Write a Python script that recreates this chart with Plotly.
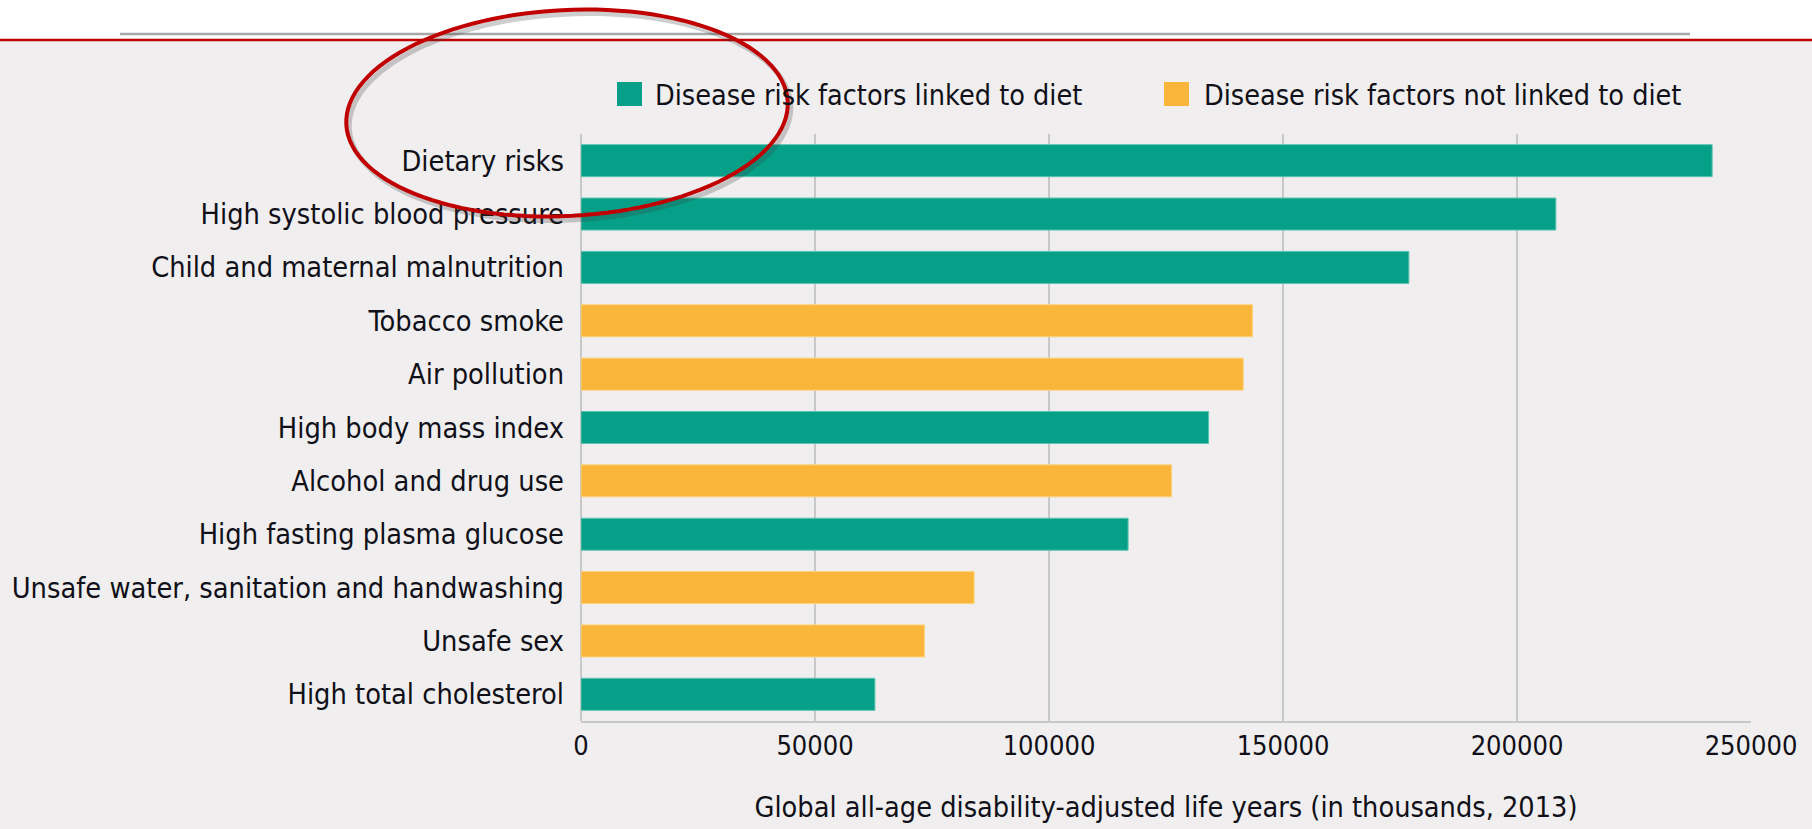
import numpy as np
import plotly.graph_objects as go

# ---- data ----
categories = [
    "Dietary risks",
    "High systolic blood pressure",
    "Child and maternal malnutrition",
    "Tobacco smoke",
    "Air pollution",
    "High body mass index",
    "Alcohol and drug use",
    "High fasting plasma glucose",
    "Unsafe water, sanitation and handwashing",
    "Unsafe sex",
    "High total cholesterol",
]
dalys = [241700, 208300, 176900, 143500, 141500, 134100, 126200, 116900, 84000, 73400, 62800]
linked_to_diet = [True, True, True, False, False, True, False, True, False, False, True]
legend_names = ["Disease risk factors linked to diet", "Disease risk factors not linked to diet"]
x_ticks = [0, 50000, 100000, 150000, 200000, 250000]
x_title = "Global all-age disability-adjusted life years (in thousands, 2013)"

GREEN = "#06A088"
ORANGE = "#FAB63A"
FONT = "DejaVu Sans Condensed, Liberation Sans Narrow, sans-serif"
TXT = "#101018"

W, H = 1812, 829
L, R, T, B = 581, 61, 134, 108
PW, PH = W - L - R, H - T - B

def px(x):
    return (x - L) / PW

def py(y):
    return (H - B - y) / PH

fig = go.Figure()
for flag, name, col, lc in [(True, legend_names[0], GREEN, "#5dc3b0"),
                             (False, legend_names[1], ORANGE, "#fcd27f")]:
    cats = [c for c, f in zip(categories, linked_to_diet) if f == flag]
    vals = [v for v, f in zip(dalys, linked_to_diet) if f == flag]
    fig.add_trace(go.Bar(
        x=vals, y=cats, orientation="h", name=name,
        marker=dict(color=col, line=dict(color=lc, width=1)),
        showlegend=False, hoverinfo="x+y",
    ))

shapes = []
# white header band and lines
shapes.append(dict(type="rect", xref="paper", yref="paper", x0=px(0), x1=px(W),
                   y0=py(40), y1=py(0), fillcolor="white", line=dict(width=0), layer="below"))
shapes.append(dict(type="line", xref="paper", yref="paper", x0=px(120), x1=px(1690),
                   y0=py(34), y1=py(34), line=dict(color="#a8a8a8", width=2.5)))
shapes.append(dict(type="line", xref="paper", yref="paper", x0=px(0), x1=px(W),
                   y0=py(40), y1=py(40), line=dict(color="#C00000", width=2.5)))

# legend squares
for (x0, x1), col in [((617, 642), GREEN), ((1164, 1189), ORANGE)]:
    shapes.append(dict(type="rect", xref="paper", yref="paper", x0=px(x0), x1=px(x1),
                       y0=py(106), y1=py(82), fillcolor=col, line=dict(width=0)))

# hand-drawn red ellipse (decoration)
t = np.linspace(0, 2 * np.pi, 121)
cx, cy, rx, ry, ang = 567, 113, 221, 103, np.deg2rad(-3)
ex = cx + rx * np.cos(t) * np.cos(ang) - ry * np.sin(t) * np.sin(ang)
ey = cy + rx * np.cos(t) * np.sin(ang) + ry * np.sin(t) * np.cos(ang)

def ell_path(dx, dy):
    pts = [f"{px(a + dx):.5f},{py(b + dy):.5f}" for a, b in zip(ex, ey)]
    return "M" + " L".join(pts) + " Z"

shapes.append(dict(type="path", xref="paper", yref="paper", path=ell_path(3, 4),
                   line=dict(color="rgba(60,60,60,0.25)", width=5)))
shapes.append(dict(type="path", xref="paper", yref="paper", path=ell_path(0, 0),
                   line=dict(color="#C00000", width=4)))

annotations = [
    dict(xref="paper", yref="paper", x=px(653), y=py(95), xanchor="left", yanchor="middle",
         text=legend_names[0], showarrow=False, font=dict(size=28.5, color=TXT, family=FONT)),
    dict(xref="paper", yref="paper", x=px(1202), y=py(95), xanchor="left", yanchor="middle",
         text=legend_names[1], showarrow=False, font=dict(size=28.5, color=TXT, family=FONT)),
]

fig.update_layout(
    width=W, height=H,
    margin=dict(l=L, r=R, t=T, b=B, pad=0),
    paper_bgcolor="#F0EEEF", plot_bgcolor="#F0EEEF",
    barmode="overlay", bargap=0.4,
    font=dict(family=FONT, color=TXT, size=29),
    shapes=shapes, annotations=annotations,
    showlegend=False,
)
fig.update_xaxes(
    range=[0, 250000], tickvals=x_ticks, tickformat="d", automargin=False,
    showgrid=True, gridcolor="#c8c8c8", gridwidth=2,
    zeroline=True, zerolinecolor="#c8c8c8", zerolinewidth=2,
    showline=True, linecolor="#c8c8c8", linewidth=2,
    ticks="", tickfont=dict(size=27, color=TXT), ticklabelstandoff=0,
    title=dict(text=x_title, font=dict(size=28.6, color=TXT), standoff=37),
    fixedrange=True,
)
fig.update_yaxes(
    categoryorder="array", categoryarray=categories, autorange="reversed", automargin=False,
    showgrid=False, zeroline=False, showline=False, ticks="",
    tickfont=dict(size=28.7, color=TXT), ticklabelstandoff=16,
    fixedrange=True,
)

fig.write_html("out.html")
